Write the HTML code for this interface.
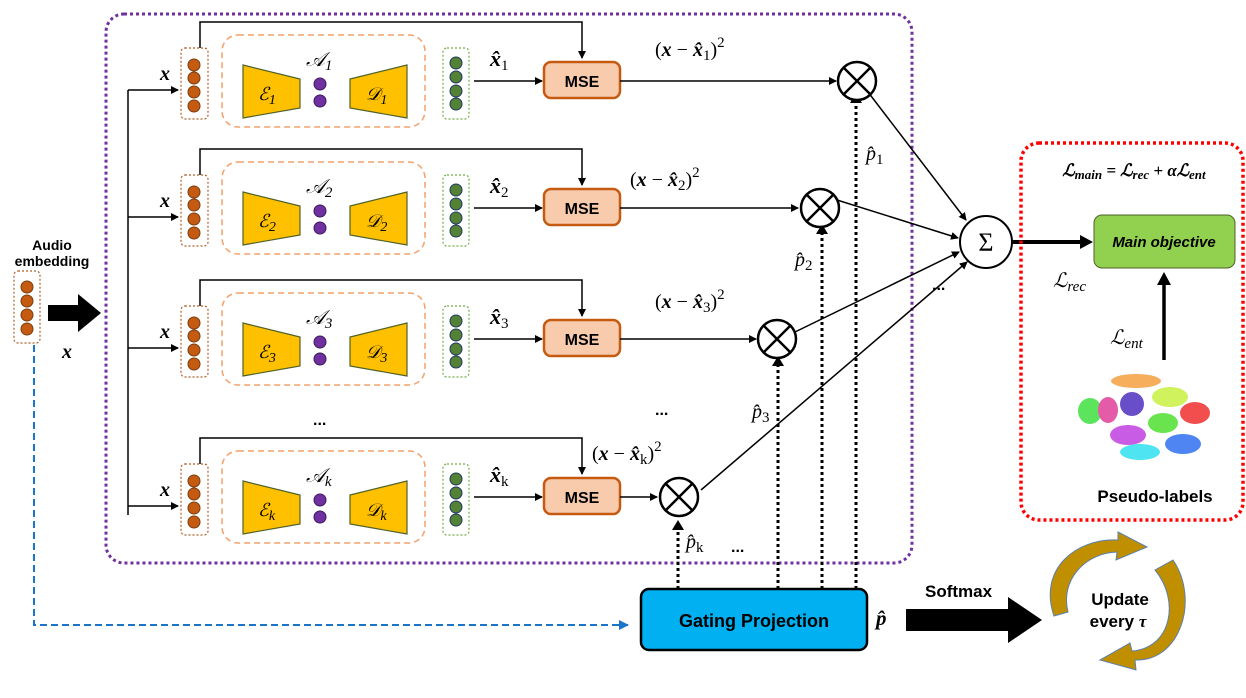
<!DOCTYPE html>
<html><head><meta charset="utf-8"><style>
html,body{margin:0;padding:0;background:#fff;}
svg{display:block;font-family:"Liberation Sans",sans-serif;}
.m{font-family:"Liberation Serif",serif;}
</style></head><body>
<svg width="1246" height="698" viewBox="0 0 1246 698" xmlns="http://www.w3.org/2000/svg">
<defs>
<marker id="ah" markerWidth="8" markerHeight="8" refX="7" refY="4" orient="auto" markerUnits="userSpaceOnUse"><path d="M0,0 L8,4 L0,8 z" fill="#000"/></marker>
<marker id="ab" markerWidth="10" markerHeight="10" refX="9" refY="5" orient="auto" markerUnits="userSpaceOnUse"><path d="M0,0 L10,5 L0,10 z" fill="#1a75c9"/></marker>
<g id="row">
  <path d="M200,48 V22 H582 V58" fill="none" stroke="#000" stroke-width="1.5" marker-end="url(#ah)"/>
  <line x1="128" y1="90" x2="178" y2="90" stroke="#000" stroke-width="1.5" marker-end="url(#ah)"/>
  <rect x="181" y="48" width="27" height="71" rx="4" fill="#fff" stroke="#b0602a" stroke-width="1.2" stroke-dasharray="2,2"/>
  <circle cx="194" cy="65" r="6" fill="#c55a11" stroke="#7a3d10"/>
  <circle cx="194" cy="78" r="6" fill="#c55a11" stroke="#7a3d10"/>
  <circle cx="194" cy="92" r="6" fill="#c55a11" stroke="#7a3d10"/>
  <circle cx="194" cy="106" r="6" fill="#c55a11" stroke="#7a3d10"/>
  <rect x="222" y="35" width="203" height="92" rx="16" fill="none" stroke="#f4a06a" stroke-width="1.5" stroke-dasharray="6,4"/>
  <polygon points="243,65 300,79 300,108 243,118" fill="#ffc000" stroke="#4f6228" stroke-width="1.2"/>
  <polygon points="407,65 350,79 350,108 407,118" fill="#ffc000" stroke="#4f6228" stroke-width="1.2"/>
  <circle cx="320" cy="84" r="6" fill="#7030a0" stroke="#3d1a5a"/>
  <circle cx="320" cy="101" r="6" fill="#7030a0" stroke="#3d1a5a"/>
  <rect x="443" y="48" width="26" height="71" rx="4" fill="#fff" stroke="#70ad47" stroke-width="1.2" stroke-dasharray="2,2"/>
  <circle cx="456" cy="63" r="6" fill="#548235" stroke="#203864"/>
  <circle cx="456" cy="77" r="6" fill="#548235" stroke="#203864"/>
  <circle cx="456" cy="91" r="6" fill="#548235" stroke="#203864"/>
  <circle cx="456" cy="104" r="6" fill="#548235" stroke="#203864"/>
  <line x1="474" y1="81" x2="542" y2="81" stroke="#000" stroke-width="1.5" marker-end="url(#ah)"/>
  <rect x="544" y="62" width="76" height="36" rx="7" fill="#f8cbad" stroke="#c55a11" stroke-width="2.5"/>
  <text x="582" y="87" text-anchor="middle" font-weight="bold" font-size="16">MSE</text>
  <text x="165" y="80" class="m" font-style="italic" font-weight="bold" font-size="20" text-anchor="middle">x</text>
</g>
</defs>
<rect x="106" y="14" width="806" height="549" rx="18" fill="none" stroke="#7030a0" stroke-width="3" stroke-dasharray="3,3"/>
<line x1="128" y1="90" x2="128" y2="515" stroke="#000" stroke-width="1.5"/>
<use href="#row"/>
<use href="#row" transform="translate(0,127)"/>
<use href="#row" transform="translate(0,258)"/>
<use href="#row" transform="translate(0,416)"/>
<g class="m" font-size="20">
<text x="306" y="66" font-style="italic">𝒜<tspan font-size="15" dy="4">1</tspan></text>
<text x="306" y="193" font-style="italic">𝒜<tspan font-size="15" dy="4">2</tspan></text>
<text x="306" y="324" font-style="italic">𝒜<tspan font-size="15" dy="4">3</tspan></text>
<text x="306" y="482" font-style="italic">𝒜<tspan font-size="15" dy="4">k</tspan></text>
<g font-size="18" font-style="italic">
<text x="258" y="100">ℰ<tspan font-size="14" dy="4">1</tspan></text>
<text x="366" y="100">𝒟<tspan font-size="14" dy="4">1</tspan></text>
<text x="258" y="227">ℰ<tspan font-size="14" dy="4">2</tspan></text>
<text x="366" y="227">𝒟<tspan font-size="14" dy="4">2</tspan></text>
<text x="258" y="358">ℰ<tspan font-size="14" dy="4">3</tspan></text>
<text x="366" y="358">𝒟<tspan font-size="14" dy="4">3</tspan></text>
<text x="258" y="516">ℰ<tspan font-size="14" dy="4">k</tspan></text>
<text x="366" y="516">𝒟<tspan font-size="14" dy="4">k</tspan></text>
</g>
<g font-weight="bold" font-style="italic" font-size="22">
<text x="490" y="66">x̂<tspan font-size="15" dy="4" font-weight="normal" font-style="normal">1</tspan></text>
<text x="490" y="193">x̂<tspan font-size="15" dy="4" font-weight="normal" font-style="normal">2</tspan></text>
<text x="490" y="324">x̂<tspan font-size="15" dy="4" font-weight="normal" font-style="normal">3</tspan></text>
<text x="490" y="482">x̂<tspan font-size="15" dy="4" font-weight="normal" font-style="normal">k</tspan></text>
</g>
<g font-size="20">
<text x="655" y="56">(<tspan font-weight="bold" font-style="italic">x</tspan> − <tspan font-weight="bold" font-style="italic">x̂</tspan><tspan font-size="15" dy="4">1</tspan><tspan dy="-4">)</tspan><tspan font-size="15" dy="-9">2</tspan></text>
<text x="630" y="186">(<tspan font-weight="bold" font-style="italic">x</tspan> − <tspan font-weight="bold" font-style="italic">x̂</tspan><tspan font-size="15" dy="4">2</tspan><tspan dy="-4">)</tspan><tspan font-size="15" dy="-9">2</tspan></text>
<text x="655" y="308">(<tspan font-weight="bold" font-style="italic">x</tspan> − <tspan font-weight="bold" font-style="italic">x̂</tspan><tspan font-size="15" dy="4">3</tspan><tspan dy="-4">)</tspan><tspan font-size="15" dy="-9">2</tspan></text>
<text x="592" y="460">(<tspan font-weight="bold" font-style="italic">x</tspan> − <tspan font-weight="bold" font-style="italic">x̂</tspan><tspan font-size="15" dy="4">k</tspan><tspan dy="-4">)</tspan><tspan font-size="15" dy="-9">2</tspan></text>
</g>
<g font-style="italic">
<text x="866" y="160">p̂<tspan font-size="15" dy="4" font-style="normal">1</tspan></text>
<text x="795" y="266">p̂<tspan font-size="15" dy="4" font-style="normal">2</tspan></text>
<text x="752" y="418">p̂<tspan font-size="15" dy="4" font-style="normal">3</tspan></text>
<text x="686" y="548">p̂<tspan font-size="15" dy="4" font-style="normal">k</tspan></text>
</g>
</g>
<g font-weight="bold" font-size="16">
<text x="313" y="425">...</text><text x="655" y="415">...</text><text x="731" y="552">...</text><text x="932" y="290">...</text>
</g>
<g stroke="#000" stroke-width="1.5" fill="none">
<line x1="620" y1="81" x2="836" y2="81" marker-end="url(#ah)"/>
<line x1="620" y1="208" x2="798" y2="208" marker-end="url(#ah)"/>
<line x1="620" y1="339" x2="756" y2="339" marker-end="url(#ah)"/>
<line x1="620" y1="497" x2="657" y2="497" marker-end="url(#ah)"/>
<line x1="868" y1="92" x2="966" y2="220" marker-end="url(#ah)"/>
<line x1="837" y1="200" x2="958" y2="238" marker-end="url(#ah)"/>
<line x1="795" y1="332" x2="959" y2="252" marker-end="url(#ah)"/>
<line x1="701" y1="490" x2="967" y2="262" marker-end="url(#ah)"/>
</g>
<g stroke="#000" stroke-width="3" stroke-dasharray="3,3" fill="none">
<line x1="678" y1="589" x2="678" y2="528"/>
<line x1="778" y1="589" x2="778" y2="364"/>
<line x1="822" y1="589" x2="822" y2="232"/>
<line x1="856" y1="589" x2="856" y2="101"/>
</g>
<g fill="#000"><path d="M672,530 L678,520 L684,530z"/><path d="M772,366 L778,356 L784,366z"/><path d="M816,234 L822,224 L828,234z"/><path d="M850,103 L856,93 L862,103z"/></g>
<g fill="#fff" stroke="#000" stroke-width="2.5">
<circle cx="857" cy="81" r="19"/><circle cx="820" cy="208" r="19"/><circle cx="777" cy="339" r="19"/><circle cx="679" cy="497" r="19"/>
</g>
<g stroke="#000" stroke-width="2.5">
<path d="M844,68 L870,94 M870,68 L844,94"/><path d="M807,195 L833,221 M833,195 L807,221"/><path d="M764,326 L790,352 M790,326 L764,352"/><path d="M666,484 L692,510 M692,484 L666,510"/>
</g>
<circle cx="986" cy="242" r="26" fill="#fff" stroke="#000" stroke-width="2"/>
<text x="986" y="251" text-anchor="middle" class="m" font-size="26">Σ</text>
<line x1="1012" y1="242" x2="1082" y2="242" stroke="#000" stroke-width="4"/>
<path d="M1080,235 L1093,242 L1080,249z" fill="#000"/>
<text x="52" y="250" text-anchor="middle" font-weight="bold" font-size="14">Audio</text>
<text x="52" y="266" text-anchor="middle" font-weight="bold" font-size="14">embedding</text>
<rect x="14" y="271" width="26" height="72" rx="4" fill="#fff" stroke="#b0602a" stroke-width="1.2" stroke-dasharray="2,2"/>
<circle cx="27" cy="287" r="6" fill="#c55a11" stroke="#7a3d10"/><circle cx="27" cy="301" r="6" fill="#c55a11" stroke="#7a3d10"/><circle cx="27" cy="315" r="6" fill="#c55a11" stroke="#7a3d10"/><circle cx="27" cy="329" r="6" fill="#c55a11" stroke="#7a3d10"/>
<path d="M48,305 H78 V294 L101,313 L78,332 V321 H48z" fill="#000"/>
<text x="62" y="358" class="m" font-style="italic" font-weight="bold" font-size="20">x</text>
<path d="M34,345 V625 H628" fill="none" stroke="#1a75c9" stroke-width="2" stroke-dasharray="7,4" marker-end="url(#ab)"/>
<rect x="641" y="589" width="226" height="61" rx="8" fill="#00b0f0" stroke="#000" stroke-width="2.5"/>
<text x="754" y="627" text-anchor="middle" font-weight="bold" font-size="18">Gating Projection</text>
<text x="876" y="625" class="m" font-style="italic" font-weight="bold" font-size="21">p̂</text>
<text x="925" y="597" font-weight="bold" font-size="17">Softmax</text>
<path d="M906,609 H1008 V597 L1042,620 L1008,643 V631 H906z" fill="#000"/>
<g fill="#bf8f00" stroke="#5a7fb0" stroke-width="1">
<path d="M1054,616 C1038,570 1075,538 1118,540 L1118,532 L1147,547 L1116,560 L1117,552 C1085,553 1060,580 1068,612z"/>
<path d="M1173,560 C1200,600 1180,662 1135,660 L1136,670 L1100,660 L1130,643 L1132,651 C1172,648 1180,600 1155,570z"/>
</g>
<text x="1120" y="605" text-anchor="middle" font-weight="bold" font-size="17">Update</text>
<text x="1118" y="627" text-anchor="middle" font-weight="bold" font-size="17">every <tspan class="m" font-style="italic">τ</tspan></text>
<rect x="1021" y="143" width="222" height="377" rx="18" fill="none" stroke="#ff0000" stroke-width="3.5" stroke-dasharray="3,3"/>
<text x="1134" y="176" text-anchor="middle" class="m" font-weight="bold" font-style="italic" font-size="17">ℒ<tspan font-size="13" dy="3">main</tspan><tspan dy="-3"> = ℒ</tspan><tspan font-size="13" dy="3">rec</tspan><tspan dy="-3"> + αℒ</tspan><tspan font-size="13" dy="3">ent</tspan></text>
<rect x="1094" y="215" width="141" height="53" rx="8" fill="#92d050" stroke="#4f6228" stroke-width="1"/>
<text x="1164" y="247" text-anchor="middle" font-weight="bold" font-style="italic" font-size="15">Main objective</text>
<text x="1053" y="287" class="m" font-style="italic" font-size="20">ℒ<tspan font-size="15" dy="4">rec</tspan></text>
<text x="1110" y="344" class="m" font-style="italic" font-size="20">ℒ<tspan font-size="15" dy="4">ent</tspan></text>
<line x1="1164" y1="360" x2="1164" y2="283" stroke="#000" stroke-width="3.5"/>
<path d="M1157,285 L1164,272 L1171,285z" fill="#000"/>
<g opacity="0.85">
<ellipse cx="1136" cy="381" rx="25" ry="7" fill="#f4a040"/>
<ellipse cx="1090" cy="411" rx="12" ry="13" fill="#40e040"/>
<ellipse cx="1108" cy="410" rx="10" ry="13" fill="#e0409a"/>
<ellipse cx="1132" cy="404" rx="12" ry="12" fill="#5030c0"/>
<ellipse cx="1170" cy="397" rx="18" ry="10" fill="#c8f040"/>
<ellipse cx="1195" cy="413" rx="15" ry="11" fill="#f03030"/>
<ellipse cx="1163" cy="423" rx="15" ry="10" fill="#50e030"/>
<ellipse cx="1128" cy="435" rx="18" ry="10" fill="#c040e0"/>
<ellipse cx="1140" cy="452" rx="20" ry="8" fill="#30e0f0"/>
<ellipse cx="1183" cy="444" rx="18" ry="10" fill="#3070f0"/>
</g>
<text x="1155" y="502" text-anchor="middle" font-weight="bold" font-size="17">Pseudo-labels</text>
</svg>
</body></html>
